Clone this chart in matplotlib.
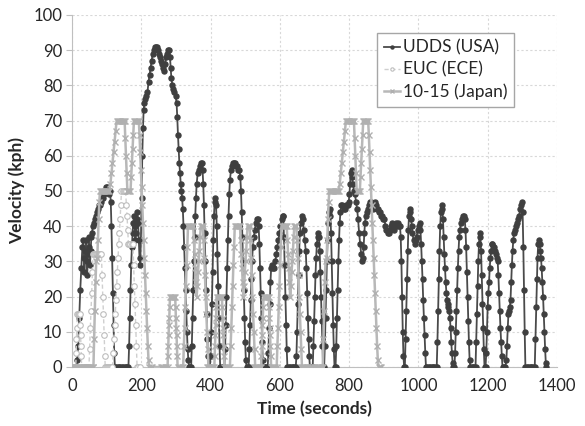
import numpy as np
import matplotlib.pyplot as plt

# UDDS (USA) speed trace, (seconds, kph)
udds_points = [
    (0, 0), (4, 0), (8, 0), (12, 0), (15, 2), (18, 6), (21, 14), (24, 22), (27, 28), (30, 34),
    (32, 36), (34, 31), (36, 27), (38, 33), (40, 36), (42, 30), (44, 26), (46, 32), (48, 37), (50, 34),
    (52, 29), (54, 33), (56, 37), (58, 38), (60, 40), (63, 41), (66, 42), (69, 43), (72, 44), (75, 45),
    (78, 46), (81, 46), (84, 47), (87, 48), (90, 48), (93, 49), (96, 50), (99, 51), (102, 51), (105, 50),
    (108, 49), (110, 50), (112, 47), (114, 40), (116, 31), (118, 21), (120, 12), (122, 4), (124, 0),
    (128, 0), (132, 0), (136, 0), (140, 0), (144, 0), (148, 0), (152, 0), (156, 0), (160, 0), (163, 0),
    (165, 6), (167, 14), (169, 22), (171, 29), (173, 34), (175, 38), (177, 41), (179, 43), (181, 40),
    (183, 36), (185, 38), (187, 42), (189, 44), (191, 41), (193, 36), (195, 31), (197, 29), (199, 36),
    (201, 48), (203, 60), (205, 68), (207, 73), (209, 75), (212, 76), (215, 77), (218, 78), (221, 81),
    (224, 83), (227, 85), (230, 87), (233, 89), (236, 90), (239, 91), (242, 91), (245, 91), (248, 90),
    (251, 89), (254, 88), (257, 87), (260, 86), (263, 85), (266, 84), (269, 86), (272, 88), (275, 89),
    (278, 90), (281, 90), (283, 88), (285, 85), (287, 82), (290, 80), (293, 79), (296, 78), (299, 77),
    (302, 75), (304, 71), (306, 66), (308, 62), (310, 58), (312, 55), (314, 52), (316, 50), (318, 48),
    (320, 45), (322, 40), (324, 34), (326, 28), (328, 22), (330, 16), (332, 10), (334, 5), (336, 2),
    (338, 0), (341, 0), (344, 0), (346, 6), (348, 14), (350, 22), (352, 30), (354, 37), (356, 43),
    (358, 48), (360, 52), (363, 55), (366, 56), (369, 57), (372, 58), (375, 58), (377, 56), (379, 52),
    (381, 46), (383, 38), (385, 30), (387, 22), (389, 15), (391, 8), (393, 3), (395, 0),
    (398, 0), (400, 3), (402, 10), (404, 18), (406, 27), (408, 36), (410, 43), (412, 47), (414, 48),
    (416, 46), (418, 40), (420, 32), (422, 23), (424, 14), (426, 6), (428, 0),
    (432, 0), (436, 0), (440, 0), (442, 5), (444, 12), (446, 20), (448, 28), (450, 36), (452, 43),
    (454, 49), (456, 53), (459, 56), (462, 57), (465, 58), (468, 58), (471, 58), (474, 57), (477, 57),
    (480, 56), (483, 56), (486, 54), (488, 50), (490, 44), (492, 37), (494, 30), (496, 22), (498, 14),
    (500, 7), (502, 2), (504, 0),
    (507, 0), (510, 0), (512, 5), (514, 12), (516, 19), (518, 25), (520, 30), (522, 34), (525, 37),
    (528, 39), (531, 41), (534, 42), (537, 42), (539, 40), (541, 35), (543, 28), (545, 21), (547, 14),
    (549, 7), (551, 2), (553, 0),
    (557, 0), (561, 0), (565, 0), (567, 4), (569, 11), (571, 18), (573, 24), (575, 28), (578, 29),
    (581, 28), (584, 28), (587, 30), (590, 32), (593, 34), (596, 36), (599, 38), (602, 40), (605, 42),
    (608, 43), (610, 43), (612, 37), (614, 29), (616, 20), (618, 12), (620, 5), (622, 0),
    (626, 0), (630, 0), (634, 0), (638, 0), (642, 0), (646, 0), (648, 3), (650, 10), (652, 18),
    (654, 26), (656, 33), (658, 38), (660, 41), (663, 43), (666, 42), (669, 39), (672, 36), (675, 33),
    (677, 28), (679, 21), (681, 14), (683, 8), (685, 3), (687, 0),
    (691, 0), (695, 0), (697, 6), (699, 13), (701, 20), (703, 26), (705, 31), (707, 35), (709, 37),
    (711, 38), (713, 37), (715, 33), (717, 27), (719, 20), (721, 13), (723, 6), (725, 0),
    (728, 0), (730, 6), (732, 14), (734, 22), (736, 30), (738, 36), (740, 41), (742, 44), (744, 45),
    (746, 43), (748, 38), (750, 30), (752, 21), (754, 12), (756, 5), (758, 0),
    (761, 0), (763, 6), (765, 14), (767, 22), (769, 30), (771, 36), (773, 41), (775, 44), (778, 46),
    (781, 46), (784, 45), (787, 45), (790, 46), (793, 46), (796, 46), (799, 47), (801, 49), (803, 52),
    (805, 55), (807, 56), (809, 54), (811, 52), (814, 50), (817, 49), (820, 47), (823, 45), (826, 42),
    (829, 38), (832, 35), (835, 32), (838, 30), (840, 31), (842, 34), (844, 38), (846, 41), (848, 43),
    (851, 44), (854, 45), (857, 46), (860, 47), (863, 47), (866, 46), (869, 45), (872, 46), (875, 47),
    (878, 46), (881, 45), (884, 45), (887, 44), (890, 44), (893, 43), (896, 43), (899, 42), (902, 42),
    (905, 40), (908, 39), (911, 38), (914, 38), (917, 39), (920, 40), (923, 41), (926, 40), (929, 39),
    (932, 40), (935, 41), (938, 40), (941, 41), (944, 40), (947, 40), (949, 37), (951, 30), (953, 20),
    (955, 10), (957, 3), (959, 0),
    (961, 0), (963, 8), (965, 16), (967, 25), (969, 33), (971, 39), (973, 43), (975, 45), (977, 44),
    (979, 42), (981, 40), (983, 38), (986, 36), (989, 35), (992, 36), (995, 37), (998, 39), (1001, 40),
    (1004, 41), (1006, 39), (1008, 35), (1010, 30), (1012, 25), (1014, 19), (1016, 14), (1018, 9),
    (1020, 4), (1022, 0),
    (1026, 0), (1030, 0), (1034, 0), (1038, 0), (1042, 0), (1046, 0), (1050, 0), (1053, 0), (1055, 7),
    (1057, 16), (1059, 25), (1061, 33), (1063, 40), (1065, 44), (1067, 46), (1069, 45), (1071, 42),
    (1073, 37), (1075, 32), (1077, 28), (1079, 24), (1081, 21), (1083, 19), (1085, 18), (1087, 17),
    (1089, 16), (1091, 14), (1093, 11), (1095, 7), (1097, 4), (1099, 1), (1101, 0),
    (1104, 0), (1106, 4), (1108, 10), (1110, 16), (1112, 22), (1114, 28), (1116, 33), (1118, 37),
    (1120, 39), (1123, 41), (1126, 42), (1129, 43), (1132, 43), (1134, 42), (1136, 39), (1138, 34),
    (1140, 27), (1142, 20), (1144, 13), (1146, 7), (1148, 2), (1150, 0),
    (1154, 0), (1158, 0), (1162, 0), (1165, 0), (1167, 7), (1169, 15), (1171, 23), (1173, 30),
    (1175, 35), (1177, 38), (1179, 37), (1181, 33), (1183, 26), (1185, 18), (1187, 11), (1189, 5),
    (1191, 0),
    (1194, 0), (1196, 4), (1198, 10), (1200, 17), (1202, 21), (1204, 24), (1206, 28), (1208, 31),
    (1210, 33), (1212, 35), (1214, 35), (1217, 34), (1220, 33), (1223, 32), (1226, 31), (1229, 30),
    (1231, 26), (1233, 21), (1235, 16), (1237, 11), (1239, 7), (1241, 3), (1243, 0),
    (1247, 0), (1251, 0), (1254, 2), (1256, 6), (1258, 11), (1260, 15), (1262, 16), (1264, 17),
    (1266, 19), (1268, 24), (1270, 29), (1272, 33), (1274, 36), (1276, 38), (1279, 39), (1282, 40),
    (1285, 41), (1288, 42), (1291, 43), (1294, 45), (1297, 46), (1299, 47), (1301, 44), (1303, 34),
    (1305, 22), (1307, 10), (1309, 0),
    (1313, 0), (1317, 0), (1321, 0), (1325, 0), (1329, 0), (1333, 0), (1336, 0), (1338, 8), (1340, 17),
    (1342, 25), (1344, 31), (1346, 35), (1348, 36), (1350, 35), (1352, 33), (1354, 31), (1356, 28),
    (1358, 24), (1360, 20), (1362, 15), (1364, 10), (1366, 5), (1368, 1), (1369, 0),
]

# ECE urban cycle, (seconds, kph)
ece_points = [
    (0, 0), (3, 0), (6, 0), (9, 0), (11, 0), (12, 4), (13, 8), (14, 11), (15, 15), (17, 15),
    (19, 15), (21, 15), (23, 15), (24, 12), (25, 9), (26, 6), (27, 3), (28, 0), (31, 0), (34, 0),
    (37, 0), (40, 0), (43, 0), (46, 0), (49, 0), (51, 5), (53, 11), (55, 16), (57, 21), (59, 27),
    (61, 32), (64, 32), (67, 32), (70, 32), (73, 32), (76, 32), (79, 32), (82, 32), (85, 32), (87, 26),
    (89, 20), (91, 15), (93, 9), (95, 3), (96, 0), (99, 0), (102, 0), (105, 0), (108, 0), (111, 0),
    (114, 0), (117, 0), (119, 4), (121, 8), (123, 12), (125, 15), (127, 19), (129, 23), (131, 27),
    (133, 31), (135, 35), (137, 38), (139, 42), (141, 46), (143, 50), (146, 50), (149, 50), (152, 50),
    (155, 50), (157, 46), (159, 43), (161, 39), (163, 35), (166, 35), (169, 35), (172, 35), (176, 35),
    (178, 29), (180, 23), (182, 18), (184, 12), (186, 6), (188, 0), (191, 0), (195, 0),
]

# Japanese 15-mode segment, (seconds from segment start, kph)
mode15_points = [
    (0, 0), (4, 0), (8, 0), (12, 0), (16, 0), (20, 0), (24, 0), (28, 0), (32, 0), (36, 0),
    (40, 0), (44, 0), (48, 0), (52, 0), (56, 0), (60, 0), (62, 0), (64, 8), (66, 16), (68, 24),
    (70, 30), (73, 31), (75, 36), (77, 42), (79, 47), (81, 50), (84, 50), (87, 50), (90, 50),
    (93, 50), (96, 50), (99, 50), (102, 50), (105, 50), (108, 50), (111, 52), (114, 55), (117, 58),
    (120, 61), (123, 64), (126, 67), (129, 70), (132, 70), (135, 70), (138, 70), (141, 70), (144, 70),
    (147, 70), (150, 70), (152, 70), (154, 65), (156, 60), (158, 55), (160, 50), (163, 50), (166, 50),
    (169, 50), (171, 54), (173, 58), (175, 62), (177, 66), (179, 70), (182, 70), (185, 70), (188, 70),
    (191, 70), (193, 70), (195, 66), (197, 61), (199, 56), (201, 51), (203, 46), (205, 41), (207, 36),
    (209, 31), (211, 26), (213, 21), (215, 16), (217, 11), (219, 6), (221, 2), (223, 0), (227, 0),
    (231, 0),
]

# Japanese 10-mode segment, (seconds from segment start, kph)
mode10_points = [
    (0, 0), (4, 0), (8, 0), (12, 0), (16, 0), (20, 0), (21, 3), (22, 6), (23, 9), (24, 12),
    (25, 14), (26, 17), (27, 20), (30, 20), (33, 20), (36, 20), (39, 20), (42, 20), (43, 17),
    (44, 14), (45, 11), (46, 9), (47, 6), (48, 3), (49, 0), (53, 0), (57, 0), (61, 0), (65, 0),
    (67, 6), (69, 11), (71, 17), (73, 23), (75, 29), (77, 34), (79, 40), (82, 40), (85, 40),
    (88, 40), (91, 40), (94, 40), (96, 36), (98, 32), (100, 28), (102, 24), (104, 20), (106, 23),
    (108, 27), (110, 30), (112, 33), (114, 37), (116, 40), (119, 40), (122, 40), (124, 36),
    (126, 31), (128, 26), (130, 20), (132, 15), (134, 10), (136, 5), (138, 0),
]

# 10-15 test order and start time of each segment
japan_segments = ["15", "10", "10", "10", "15"]
japan_starts = [0, 256, 391, 526, 662]

x_ticks = [0, 200, 400, 600, 800, 1000, 1200, 1400]
y_ticks = [0, 10, 20, 30, 40, 50, 60, 70, 80, 90, 100]

plt.rcParams['font.family'] = ['Lato', 'DejaVu Sans']

udds = np.array(udds_points, dtype=float)
ece = np.array(ece_points, dtype=float)

japan_t = []
japan_v = []
for name, start in zip(japan_segments, japan_starts):
    seg = np.array(mode15_points if name == "15" else mode10_points, dtype=float)
    japan_t.append(seg[:, 0] + start)
    japan_v.append(seg[:, 1])
japan_t = np.concatenate(japan_t)
japan_v = np.concatenate(japan_v)

fig = plt.figure(figsize=(5.85, 4.26), dpi=100)
ax = fig.add_axes([0.123, 0.1385, 0.829, 0.8265])

ax.plot(udds[:, 0], udds[:, 1], color='#4a4a4a', lw=1.3, marker='o', ms=3.6,
        mfc='#3f3f3f', mec='#3f3f3f', label='UDDS (USA)', zorder=3)
ax.plot(ece[:, 0], ece[:, 1], color='#cfcfcf', lw=1.0, ls=(0, (3, 2)), marker='o', ms=4,
        mfc='white', mec='#bdbdbd', mew=0.8, label='EUC (ECE)', zorder=4)
ax.plot(japan_t, japan_v, color='#b8b8b8', lw=1.8, marker='x', ms=4.5, mec='#b0b0b0', mew=1.0,
        label='10-15 (Japan)', zorder=5)

ax.set_xlim(0, 1400)
ax.set_ylim(0, 100)
ax.set_xticks(x_ticks)
ax.set_yticks(y_ticks)
ax.grid(True, color='#d8d8d8', lw=0.8, ls=(0, (2, 2)))
ax.set_axisbelow(True)
for side in ['top', 'right']:
    ax.spines[side].set_visible(False)
ax.spines['left'].set_color('#bfbfbf')
ax.spines['bottom'].set_color('#bfbfbf')
ax.tick_params(axis='y', length=4, color='#bfbfbf', labelsize=12, labelcolor='#262626', pad=3)
ax.tick_params(axis='x', length=0, labelsize=12, labelcolor='#262626', pad=8)

ax.set_xlabel('Time (seconds)', fontsize=12.5, fontweight='bold', color='#262626', labelpad=5)
ax.set_ylabel('Velocity (kph)', fontsize=12.5, fontweight='bold', color='#262626', labelpad=6)

leg = ax.legend(loc='upper left', bbox_to_anchor=(0.629, 0.95), fontsize=12.5, frameon=True,
                fancybox=False, framealpha=1, edgecolor='#a6a6a6', handlelength=0.9,
                handletextpad=0.2, borderpad=0.4, labelspacing=0.35, markerscale=0.6,
                borderaxespad=0)
leg.get_frame().set_linewidth(1.0)
for text in leg.get_texts():
    text.set_color('#262626')

fig.savefig('out.png', dpi=100)
